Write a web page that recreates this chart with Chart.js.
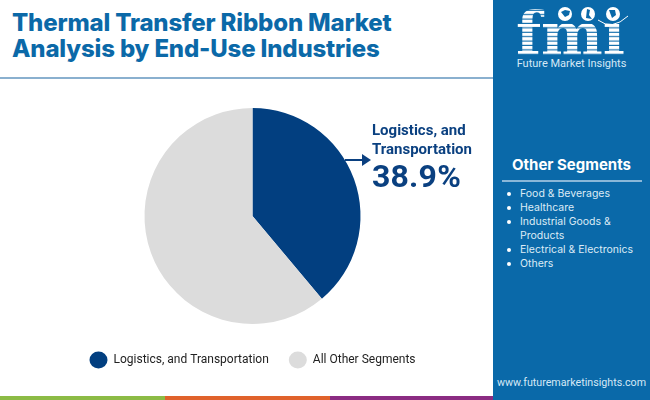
<!DOCTYPE html>
<html><head><meta charset="utf-8">
<script src="https://cdn.jsdelivr.net/npm/chart.js@4/dist/chart.umd.min.js"></script>
<style>
html,body{margin:0;padding:0;background:#fff;overflow:hidden}
#stage{position:relative;width:650px;height:400px;overflow:hidden;font-family:Roboto,sans-serif}
#stage>*{position:absolute}
#title{left:12px;top:10px;font:800 24px/26px Inter,sans-serif;color:#0b69a8;white-space:nowrap;letter-spacing:-.16px}
#rule{left:0;top:77px;width:494px;height:2px;background:#8ab0cf}
#panel{left:493px;top:0;width:157px;height:400px;background:#0a69a9}
canvas{position:absolute;left:6px;top:80px}
#cat{left:372px;top:121px;font:700 15px/19px Roboto,sans-serif;color:#0a4080;white-space:nowrap}
#pct{left:372px;top:157px;font:700 32px/38px Roboto,sans-serif;color:#0a4080;letter-spacing:.2px}
#arrow{left:343px;top:152px}
.b{top:396px;height:4px}
#logo{left:516px;top:2px;width:112px;height:56px}
#logoT{left:493px;top:57px;width:157px;text-align:center;color:#d5e8f6;font:400 11px/14px Roboto,sans-serif}
#oh{left:493px;top:155px;width:157px;text-align:center;color:#fff;font:700 15px/20px Inter,sans-serif}
#or{left:502px;top:180px;width:140px;height:2px;background:#8ab7d8}
#ol{left:502px;top:187px;width:146px;margin:0;padding:0;list-style:none;color:#dcebf6;font:400 10.5px/14px Inter,sans-serif}
#ol li{position:relative;padding-left:18px;white-space:nowrap}
#ol li:before{content:"";position:absolute;left:5px;top:5px;width:4px;height:4px;border-radius:50%;background:#fff}
#web{left:493px;top:376px;width:157px;text-align:center;color:#d5e8f6;font:400 10.7px/14px Roboto,sans-serif}
</style></head><body>
<div id="stage">
<div id="title">Thermal Transfer Ribbon Market<br>Analysis by End-Use Industries</div>
<div id="rule"></div>
<canvas id="c" width="493" height="296"></canvas>
<svg id="arrow" width="30" height="16"><path d="M2 8H20" stroke="#0a4080" stroke-width="2"/><path d="M19 2L28 8L19 14Z" fill="#0a4080"/></svg>
<div id="cat">Logistics, and<br>Transportation</div>
<div id="pct">38.9%</div>
<div class="b" style="left:0;width:165px;background:#8cbb45"></div>
<div class="b" style="left:165px;width:165px;background:#e0622b"></div>
<div class="b" style="left:330px;width:164px;background:#8b2c82"></div>
<div id="panel"></div>
<svg id="logo" viewBox="0 0 112 56">
<defs><pattern id="st" width="4" height="4.4" patternUnits="userSpaceOnUse"><rect width="4" height="3.3" fill="#fff"/></pattern></defs>
<text x="0" y="53" font-family="DejaVu Serif" font-weight="700" font-size="60" textLength="109" lengthAdjust="spacingAndGlyphs" fill="url(#st)">fmi</text>
<circle cx="49" cy="12" r="7" fill="#fff"/><circle cx="72" cy="12" r="7" fill="#fff"/><circle cx="97" cy="12" r="7.5" fill="#0a69a9"/><circle cx="97" cy="12" r="7" fill="#fff"/>
<path d="M45 10l4-2 5 1-1 4-4 2zM71 7l3 1-1 5 3 4-6-1zM93 8l6 0 1 5-4 3z" fill="#0a69a9"/>
<path d="M82 18q14 11 30-4" stroke="#fff" fill="none"/>
</svg>
<div id="logoT">Future Market Insights</div>
<div id="oh">Other Segments</div>
<div id="or"></div>
<ul id="ol"></ul>
<div id="web">www.futuremarketinsights.com</div>
</div>
<script>
const categories = ["Logistics, and Transportation", "All Other Segments"];
const shares = [38.9, 61.1];
const sliceColors = ["#023f80", "#dcdcdc"];
const otherSegments = ["Food & Beverages", "Healthcare", "Industrial Goods &<br>Products", "Electrical & Electronics", "Others"];
document.getElementById("ol").innerHTML = otherSegments.map(s => "<li>" + s + "</li>").join("");
new Chart(document.getElementById("c"), {
  type: "pie",
  data: { labels: categories, datasets: [{ data: shares, backgroundColor: sliceColors, borderWidth: 0, radius: 108 }] },
  options: {
    responsive: false, animation: false,
    layout: { padding: { top: 18, bottom: 0, left: 0, right: 0 } },
    plugins: {
      tooltip: { enabled: false },
      title: { display: false },
      legend: { position: "bottom", labels: { usePointStyle: true, pointStyle: "circle", pointStyleWidth: 18, boxHeight: 18, padding: 20,
        color: "#222", font: { family: "Roboto", size: 12 } } }
    }
  }
});
</script>
</body></html>
